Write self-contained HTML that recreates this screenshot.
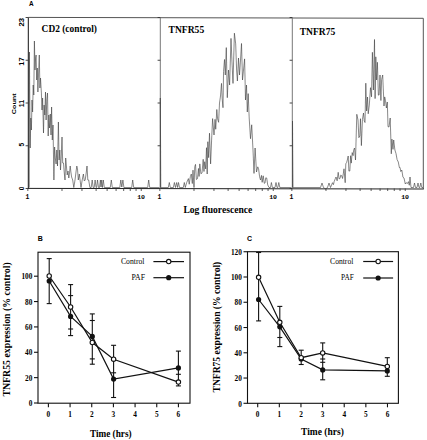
<!DOCTYPE html>
<html><head><meta charset="utf-8"><title>Figure</title>
<style>html,body{margin:0;padding:0;background:#fff;width:427px;height:440px;overflow:hidden}svg{display:block}</style>
</head><body>
<svg width="427" height="440" viewBox="0 0 427 440"><defs><filter id="sb" x="-5%" y="-5%" width="110%" height="110%"><feGaussianBlur stdDeviation="0.3"/></filter></defs><text x="29.00" y="6.20" style="font-family:'Liberation Sans',sans-serif;font-size:6.4px;font-weight:bold" text-anchor="start" fill="#000" >A</text>
<line x1="28.30" y1="17.40" x2="423.30" y2="18.30" stroke="#555" stroke-width="1"/>
<line x1="423.30" y1="18.30" x2="423.30" y2="189.00" stroke="#555" stroke-width="1"/>
<line x1="28.00" y1="188.40" x2="423.80" y2="189.00" stroke="#222" stroke-width="1"/>
<line x1="28.30" y1="17.50" x2="28.30" y2="188.50" stroke="#111" stroke-width="1"/>
<line x1="160.30" y1="17.50" x2="160.30" y2="188.50" stroke="#777" stroke-width="1"/>
<line x1="292.30" y1="17.50" x2="292.30" y2="188.50" stroke="#777" stroke-width="1"/>
<line x1="25.60" y1="17.50" x2="28.30" y2="17.50" stroke="#333" stroke-width="0.9"/>
<line x1="25.60" y1="60.25" x2="28.30" y2="60.25" stroke="#333" stroke-width="0.9"/>
<line x1="25.60" y1="103.00" x2="28.30" y2="103.00" stroke="#333" stroke-width="0.9"/>
<line x1="25.60" y1="145.75" x2="28.30" y2="145.75" stroke="#333" stroke-width="0.9"/>
<line x1="25.60" y1="188.50" x2="28.30" y2="188.50" stroke="#333" stroke-width="0.9"/>
<line x1="157.60" y1="17.50" x2="160.30" y2="17.50" stroke="#333" stroke-width="0.9"/>
<line x1="157.60" y1="60.25" x2="160.30" y2="60.25" stroke="#333" stroke-width="0.9"/>
<line x1="157.60" y1="103.00" x2="160.30" y2="103.00" stroke="#333" stroke-width="0.9"/>
<line x1="157.60" y1="145.75" x2="160.30" y2="145.75" stroke="#333" stroke-width="0.9"/>
<line x1="157.60" y1="188.50" x2="160.30" y2="188.50" stroke="#333" stroke-width="0.9"/>
<line x1="289.60" y1="17.50" x2="292.30" y2="17.50" stroke="#333" stroke-width="0.9"/>
<line x1="289.60" y1="60.25" x2="292.30" y2="60.25" stroke="#333" stroke-width="0.9"/>
<line x1="289.60" y1="103.00" x2="292.30" y2="103.00" stroke="#333" stroke-width="0.9"/>
<line x1="289.60" y1="145.75" x2="292.30" y2="145.75" stroke="#333" stroke-width="0.9"/>
<line x1="289.60" y1="188.50" x2="292.30" y2="188.50" stroke="#333" stroke-width="0.9"/>
<line x1="27.85" y1="188.50" x2="27.85" y2="191.00" stroke="#333" stroke-width="0.8"/>
<line x1="61.99" y1="188.50" x2="61.99" y2="191.00" stroke="#333" stroke-width="0.8"/>
<line x1="81.96" y1="188.50" x2="81.96" y2="191.00" stroke="#333" stroke-width="0.8"/>
<line x1="96.12" y1="188.50" x2="96.12" y2="191.00" stroke="#333" stroke-width="0.8"/>
<line x1="107.11" y1="188.50" x2="107.11" y2="191.00" stroke="#333" stroke-width="0.8"/>
<line x1="116.09" y1="188.50" x2="116.09" y2="191.00" stroke="#333" stroke-width="0.8"/>
<line x1="123.68" y1="188.50" x2="123.68" y2="191.00" stroke="#333" stroke-width="0.8"/>
<line x1="130.26" y1="188.50" x2="130.26" y2="191.00" stroke="#333" stroke-width="0.8"/>
<line x1="136.06" y1="188.50" x2="136.06" y2="191.00" stroke="#333" stroke-width="0.8"/>
<line x1="141.25" y1="188.50" x2="141.25" y2="191.00" stroke="#333" stroke-width="0.8"/>
<line x1="159.85" y1="188.50" x2="159.85" y2="191.00" stroke="#333" stroke-width="0.8"/>
<line x1="193.99" y1="188.50" x2="193.99" y2="191.00" stroke="#333" stroke-width="0.8"/>
<line x1="213.96" y1="188.50" x2="213.96" y2="191.00" stroke="#333" stroke-width="0.8"/>
<line x1="228.12" y1="188.50" x2="228.12" y2="191.00" stroke="#333" stroke-width="0.8"/>
<line x1="239.11" y1="188.50" x2="239.11" y2="191.00" stroke="#333" stroke-width="0.8"/>
<line x1="248.09" y1="188.50" x2="248.09" y2="191.00" stroke="#333" stroke-width="0.8"/>
<line x1="255.68" y1="188.50" x2="255.68" y2="191.00" stroke="#333" stroke-width="0.8"/>
<line x1="262.26" y1="188.50" x2="262.26" y2="191.00" stroke="#333" stroke-width="0.8"/>
<line x1="268.06" y1="188.50" x2="268.06" y2="191.00" stroke="#333" stroke-width="0.8"/>
<line x1="273.25" y1="188.50" x2="273.25" y2="191.00" stroke="#333" stroke-width="0.8"/>
<line x1="291.85" y1="188.50" x2="291.85" y2="191.00" stroke="#333" stroke-width="0.8"/>
<line x1="325.99" y1="188.50" x2="325.99" y2="191.00" stroke="#333" stroke-width="0.8"/>
<line x1="345.96" y1="188.50" x2="345.96" y2="191.00" stroke="#333" stroke-width="0.8"/>
<line x1="360.12" y1="188.50" x2="360.12" y2="191.00" stroke="#333" stroke-width="0.8"/>
<line x1="371.11" y1="188.50" x2="371.11" y2="191.00" stroke="#333" stroke-width="0.8"/>
<line x1="380.09" y1="188.50" x2="380.09" y2="191.00" stroke="#333" stroke-width="0.8"/>
<line x1="387.68" y1="188.50" x2="387.68" y2="191.00" stroke="#333" stroke-width="0.8"/>
<line x1="394.26" y1="188.50" x2="394.26" y2="191.00" stroke="#333" stroke-width="0.8"/>
<line x1="400.06" y1="188.50" x2="400.06" y2="191.00" stroke="#333" stroke-width="0.8"/>
<line x1="405.25" y1="188.50" x2="405.25" y2="191.00" stroke="#333" stroke-width="0.8"/>
<text x="23.90" y="22.30" style="font-family:'Liberation Sans',sans-serif;font-size:6.5px;font-weight:bold" text-anchor="middle" fill="#000" textLength="8.6" lengthAdjust="spacingAndGlyphs" transform="rotate(-90 23.90 22.30)" >23</text>
<text x="23.90" y="61.50" style="font-family:'Liberation Sans',sans-serif;font-size:6.5px;font-weight:bold" text-anchor="middle" fill="#000" textLength="8.4" lengthAdjust="spacingAndGlyphs" transform="rotate(-90 23.90 61.50)" >17</text>
<text x="23.90" y="103.60" style="font-family:'Liberation Sans',sans-serif;font-size:6.5px;font-weight:bold" text-anchor="middle" fill="#000" textLength="7.4" lengthAdjust="spacingAndGlyphs" transform="rotate(-90 23.90 103.60)" >11</text>
<text x="23.90" y="144.60" style="font-family:'Liberation Sans',sans-serif;font-size:6.5px;font-weight:bold" text-anchor="middle" fill="#000" transform="rotate(-90 23.90 144.60)" >5</text>
<text x="23.90" y="188.50" style="font-family:'Liberation Sans',sans-serif;font-size:6.5px;font-weight:bold" text-anchor="middle" fill="#000" transform="rotate(-90 23.90 188.50)" >0</text>
<text x="15.90" y="103.80" style="font-family:'Liberation Sans',sans-serif;font-size:5.4px;font-weight:bold" text-anchor="middle" fill="#000" textLength="20.8" lengthAdjust="spacingAndGlyphs" transform="rotate(-90 15.90 103.80)" >Count</text>
<text x="27.40" y="198.60" style="font-family:'Liberation Mono',monospace;font-size:6.4px;font-weight:bold" text-anchor="middle" fill="#000" >1</text>
<text x="141.10" y="198.50" style="font-family:'Liberation Mono',monospace;font-size:6.2px;font-weight:bold" text-anchor="middle" fill="#000" textLength="7.9" lengthAdjust="spacingAndGlyphs" >10</text>
<text x="159.40" y="198.60" style="font-family:'Liberation Mono',monospace;font-size:6.4px;font-weight:bold" text-anchor="middle" fill="#000" >1</text>
<text x="273.10" y="198.50" style="font-family:'Liberation Mono',monospace;font-size:6.2px;font-weight:bold" text-anchor="middle" fill="#000" textLength="7.9" lengthAdjust="spacingAndGlyphs" >10</text>
<text x="291.40" y="198.60" style="font-family:'Liberation Mono',monospace;font-size:6.4px;font-weight:bold" text-anchor="middle" fill="#000" >1</text>
<text x="405.10" y="198.50" style="font-family:'Liberation Mono',monospace;font-size:6.2px;font-weight:bold" text-anchor="middle" fill="#000" textLength="7.9" lengthAdjust="spacingAndGlyphs" >10</text>
<text x="183.40" y="212.70" style="font-family:'Liberation Serif',serif;font-size:9.4px;font-weight:bold" text-anchor="start" fill="#000" textLength="69" lengthAdjust="spacingAndGlyphs" >Log fluorescence</text>
<text x="41.60" y="31.80" style="font-family:'Liberation Serif',serif;font-size:9.4px;font-weight:bold" text-anchor="start" fill="#000" textLength="55.4" lengthAdjust="spacingAndGlyphs" >CD2 (control)</text>
<text x="168.60" y="32.60" style="font-family:'Liberation Serif',serif;font-size:9.5px;font-weight:bold" text-anchor="start" fill="#000" textLength="35.6" lengthAdjust="spacingAndGlyphs" >TNFR55</text>
<text x="299.70" y="34.60" style="font-family:'Liberation Serif',serif;font-size:9.5px;font-weight:bold" text-anchor="start" fill="#000" textLength="35.7" lengthAdjust="spacingAndGlyphs" >TNFR75</text>
<polyline points="29.30,187.50 29.40,52.00 30.20,148.00 30.80,118.00 31.40,130.00 32.00,100.00 32.60,112.00 33.20,85.00 33.80,95.00 34.40,41.00 35.00,70.00 35.60,58.00 36.10,55.00 36.70,80.00 37.30,68.00 37.90,92.00 38.50,75.00 39.30,55.00 39.90,88.00 40.50,78.00 41.40,93.00 42.00,110.00 42.60,98.00 43.50,133.00 44.10,105.00 44.80,115.00 45.50,92.00 46.10,120.00 46.80,100.00 47.50,93.00 48.20,136.00 48.80,115.00 49.50,128.00 50.30,114.00 51.00,135.00 51.60,107.00 52.30,140.00 53.00,125.00 53.90,180.00 54.60,147.00 55.30,158.00 56.10,164.00 56.80,150.00 57.50,166.00 58.40,122.00 59.10,160.00 59.80,150.00 60.50,170.00 61.20,158.00 62.00,137.00 62.70,163.00 63.50,163.00 64.20,172.00 65.00,180.00 65.70,158.00 66.40,166.00 67.20,175.00 68.00,171.00 68.80,178.00 69.50,173.00 70.20,166.00 70.90,172.00 71.60,177.00 72.70,180.00 73.80,187.50 75.00,180.00 76.00,172.00 76.80,166.00 77.50,169.00 78.30,180.00 79.30,174.00 80.20,181.00 81.00,187.50 82.20,180.00 83.40,174.00 84.30,181.00 85.20,180.00 86.20,173.00 87.00,166.00 87.80,180.00 88.70,180.00 89.90,187.50 91.20,187.50 92.20,180.00 93.20,187.50 94.20,187.50 95.10,180.00 96.10,187.50 96.60,187.50 97.50,180.00 98.50,187.50 99.50,187.50 100.40,180.00 101.00,187.00 101.70,180.00 102.40,187.50 103.30,180.00 104.30,187.50 110.30,187.50 111.30,180.00 112.30,187.50 119.80,187.50 120.80,180.00 121.80,187.00 122.90,180.00 123.90,187.50 131.70,187.50 132.70,180.00 133.70,187.50 147.70,187.50 148.70,180.00 149.70,187.50 159.50,187.50" fill="none" stroke="#404040" stroke-width="0.62" stroke-linejoin="round" filter="url(#sb)"/>
<polyline points="160.30,187.50 160.30,98.00 160.80,187.50 168.30,187.50 169.30,182.50 170.30,187.50 173.40,187.50 174.40,182.50 175.50,187.50 176.70,182.50 177.60,187.50 178.50,182.50 179.50,187.50 183.30,187.50 184.30,182.50 185.30,187.50 186.70,182.50 188.40,178.60 189.23,184.24 190.32,176.69 191.30,174.00 192.32,183.56 192.99,170.15 194.00,187.50 194.78,166.63 195.50,164.40 196.39,179.48 197.50,178.60 198.47,168.49 199.08,176.44 199.80,163.90 200.90,173.75 202.00,173.00 203.20,159.30 203.97,171.50 204.70,161.73 205.70,168.93 206.50,147.70 207.20,174.00 207.84,141.71 208.63,157.65 209.50,133.20 210.60,163.90 211.79,135.75 212.60,118.60 214.00,135.00 215.04,119.35 215.72,129.28 216.80,109.50 217.58,118.87 218.60,122.30 219.51,103.04 220.50,96.00 221.50,83.40 222.20,98.85 223.00,107.70 223.56,71.50 224.50,59.50 225.30,75.00 226.30,47.60 227.30,97.70 228.50,70.00 229.60,85.00 231.00,38.40 231.90,60.00 233.00,83.40 234.40,33.20 235.70,43.90 236.60,70.00 237.40,81.00 238.50,58.00 239.50,75.00 240.40,62.00 241.50,43.50 242.50,80.00 243.50,70.00 244.60,58.90 245.50,100.00 246.50,85.00 247.30,112.00 248.20,93.60 249.20,118.00 250.50,138.70 251.70,124.80 253.00,150.00 254.00,173.40 255.10,148.00 256.50,172.00 257.75,166.83 258.60,168.80 259.57,176.65 260.50,180.00 261.44,175.38 262.17,182.34 263.20,175.80 264.27,183.36 265.00,183.00 265.77,177.79 266.70,178.00 267.73,184.96 269.00,187.50 270.50,187.50 271.40,182.50 272.40,187.50 275.00,187.50 276.00,182.50 277.00,187.50 277.80,187.50 278.80,182.50 279.80,187.50 291.50,187.50" fill="none" stroke="#404040" stroke-width="0.62" stroke-linejoin="round" filter="url(#sb)"/>
<polyline points="292.50,187.50 292.50,121.00 293.00,187.50 320.50,187.50 322.00,183.00 323.50,187.50 325.50,189.00 327.50,187.50 329.00,183.00 330.50,187.50 332.50,182.70 333.40,184.66 334.16,181.59 335.29,178.70 336.00,177.00 337.15,180.79 338.20,172.30 339.09,178.87 340.00,178.50 340.82,175.00 341.70,175.80 342.56,178.49 343.40,173.13 344.00,168.80 345.20,182.70 345.80,163.77 346.61,162.59 347.55,159.02 348.20,156.00 348.90,171.10 349.80,171.00 350.61,155.73 351.27,163.12 352.20,152.60 353.12,155.66 353.58,150.34 354.50,148.00 355.50,160.00 356.80,114.30 358.00,120.00 358.83,137.66 359.80,136.00 360.48,118.72 361.40,145.60 362.43,119.54 363.50,113.00 364.27,120.95 365.00,122.50 365.80,83.20 366.60,111.00 367.50,97.00 368.23,113.79 369.30,105.00 370.50,87.70 371.50,96.80 372.40,52.30 373.40,90.00 374.50,39.50 375.10,98.60 375.80,56.80 376.60,80.00 377.40,62.30 378.36,95.18 379.10,95.00 380.00,75.00 380.90,100.50 381.61,79.53 382.70,75.00 384.00,106.00 384.68,96.90 385.50,100.50 386.40,108.00 387.30,102.00 388.02,126.68 389.00,127.00 390.20,118.00 391.30,153.80 391.91,139.09 392.99,149.35 393.70,140.00 394.90,150.00 396.00,153.55 397.10,159.60 398.30,162.00 399.36,167.54 400.01,167.39 400.77,171.56 401.80,170.00 402.95,177.15 404.00,178.00 405.30,184.00 406.19,182.64 406.84,183.22 407.80,183.31 408.44,181.65 409.31,185.26 410.00,177.00 411.00,187.50 413.50,187.50 414.50,183.00 415.50,187.50 417.00,187.50 418.00,183.00 419.00,187.50 419.80,187.50 420.80,183.00 421.80,187.50 423.00,187.50" fill="none" stroke="#404040" stroke-width="0.62" stroke-linejoin="round" filter="url(#sb)"/>
<text x="37.80" y="241.30" style="font-family:'Liberation Sans',sans-serif;font-size:7.0px;font-weight:bold" text-anchor="start" fill="#000" >B</text>
<rect x="38.00" y="252.20" width="152.00" height="151.00" fill="none" stroke="#111" stroke-width="1.1"/>
<line x1="34.00" y1="403.00" x2="38.00" y2="403.00" stroke="#111" stroke-width="1.1"/>
<text x="32.40" y="406.20" style="font-family:'Liberation Serif',serif;font-size:7.3px;font-weight:bold" text-anchor="end" fill="#000" textLength="3.65" lengthAdjust="spacingAndGlyphs" >0</text>
<line x1="34.00" y1="377.64" x2="38.00" y2="377.64" stroke="#111" stroke-width="1.1"/>
<text x="32.40" y="380.84" style="font-family:'Liberation Serif',serif;font-size:7.3px;font-weight:bold" text-anchor="end" fill="#000" textLength="7.3" lengthAdjust="spacingAndGlyphs" >20</text>
<line x1="34.00" y1="352.28" x2="38.00" y2="352.28" stroke="#111" stroke-width="1.1"/>
<text x="32.40" y="355.48" style="font-family:'Liberation Serif',serif;font-size:7.3px;font-weight:bold" text-anchor="end" fill="#000" textLength="7.3" lengthAdjust="spacingAndGlyphs" >40</text>
<line x1="34.00" y1="326.92" x2="38.00" y2="326.92" stroke="#111" stroke-width="1.1"/>
<text x="32.40" y="330.12" style="font-family:'Liberation Serif',serif;font-size:7.3px;font-weight:bold" text-anchor="end" fill="#000" textLength="7.3" lengthAdjust="spacingAndGlyphs" >60</text>
<line x1="34.00" y1="301.56" x2="38.00" y2="301.56" stroke="#111" stroke-width="1.1"/>
<text x="32.40" y="304.76" style="font-family:'Liberation Serif',serif;font-size:7.3px;font-weight:bold" text-anchor="end" fill="#000" textLength="7.3" lengthAdjust="spacingAndGlyphs" >80</text>
<line x1="34.00" y1="276.20" x2="38.00" y2="276.20" stroke="#111" stroke-width="1.1"/>
<text x="32.40" y="279.40" style="font-family:'Liberation Serif',serif;font-size:7.3px;font-weight:bold" text-anchor="end" fill="#000" textLength="10.95" lengthAdjust="spacingAndGlyphs" >100</text>
<line x1="48.40" y1="403.20" x2="48.40" y2="407.20" stroke="#111" stroke-width="1.1"/>
<text x="48.40" y="416.90" style="font-family:'Liberation Serif',serif;font-size:7.3px;font-weight:bold" text-anchor="middle" fill="#000" >0</text>
<line x1="70.07" y1="403.20" x2="70.07" y2="407.20" stroke="#111" stroke-width="1.1"/>
<text x="70.07" y="416.90" style="font-family:'Liberation Serif',serif;font-size:7.3px;font-weight:bold" text-anchor="middle" fill="#000" >1</text>
<line x1="91.74" y1="403.20" x2="91.74" y2="407.20" stroke="#111" stroke-width="1.1"/>
<text x="91.74" y="416.90" style="font-family:'Liberation Serif',serif;font-size:7.3px;font-weight:bold" text-anchor="middle" fill="#000" >2</text>
<line x1="113.41" y1="403.20" x2="113.41" y2="407.20" stroke="#111" stroke-width="1.1"/>
<text x="113.41" y="416.90" style="font-family:'Liberation Serif',serif;font-size:7.3px;font-weight:bold" text-anchor="middle" fill="#000" >3</text>
<line x1="135.08" y1="403.20" x2="135.08" y2="407.20" stroke="#111" stroke-width="1.1"/>
<text x="135.08" y="416.90" style="font-family:'Liberation Serif',serif;font-size:7.3px;font-weight:bold" text-anchor="middle" fill="#000" >4</text>
<line x1="156.75" y1="403.20" x2="156.75" y2="407.20" stroke="#111" stroke-width="1.1"/>
<text x="156.75" y="416.90" style="font-family:'Liberation Serif',serif;font-size:7.3px;font-weight:bold" text-anchor="middle" fill="#000" >5</text>
<line x1="178.42" y1="403.20" x2="178.42" y2="407.20" stroke="#111" stroke-width="1.1"/>
<text x="178.42" y="416.90" style="font-family:'Liberation Serif',serif;font-size:7.3px;font-weight:bold" text-anchor="middle" fill="#000" >6</text>
<text x="10.00" y="396.60" style="font-family:'Liberation Serif',serif;font-size:9.4px;font-weight:bold" text-anchor="start" fill="#000" textLength="134.3" lengthAdjust="spacingAndGlyphs" transform="rotate(-90 10.00 396.60)" >TNFR55 expression (% control)</text>
<text x="89.90" y="436.60" style="font-family:'Liberation Serif',serif;font-size:9.3px;font-weight:bold" text-anchor="start" fill="#000" textLength="41.7" lengthAdjust="spacingAndGlyphs" >Time (hrs)</text>
<text x="121.00" y="264.00" style="font-family:'Liberation Serif',serif;font-size:7.6px;font-weight:normal" text-anchor="start" fill="#000" textLength="23.4" lengthAdjust="spacingAndGlyphs" >Control</text>
<text x="131.50" y="280.10" style="font-family:'Liberation Serif',serif;font-size:7.6px;font-weight:normal" text-anchor="start" fill="#000" textLength="13.5" lengthAdjust="spacingAndGlyphs" >PAF</text>
<line x1="153.40" y1="261.60" x2="184.00" y2="261.60" stroke="#111" stroke-width="1.2"/>
<line x1="153.40" y1="277.70" x2="184.00" y2="277.70" stroke="#111" stroke-width="1.2"/>
<circle cx="168.70" cy="261.60" r="2.2" fill="#fff" stroke="#111" stroke-width="1.1"/>
<circle cx="168.70" cy="277.70" r="2.6" fill="#111"/>
<line x1="49.20" y1="258.60" x2="49.20" y2="303.60" stroke="#111" stroke-width="1.1"/>
<line x1="70.60" y1="284.60" x2="70.60" y2="335.60" stroke="#111" stroke-width="1.1"/>
<line x1="92.30" y1="313.90" x2="92.30" y2="364.20" stroke="#111" stroke-width="1.1"/>
<line x1="113.60" y1="345.30" x2="113.60" y2="397.50" stroke="#111" stroke-width="1.1"/>
<line x1="178.40" y1="351.10" x2="178.40" y2="385.90" stroke="#111" stroke-width="1.1"/>
<line x1="46.70" y1="258.60" x2="51.70" y2="258.60" stroke="#111" stroke-width="1.1"/>
<line x1="46.70" y1="303.60" x2="51.70" y2="303.60" stroke="#111" stroke-width="1.1"/>
<line x1="68.10" y1="284.60" x2="73.10" y2="284.60" stroke="#111" stroke-width="1.1"/>
<line x1="68.10" y1="295.60" x2="73.10" y2="295.60" stroke="#111" stroke-width="1.1"/>
<line x1="68.10" y1="329.00" x2="73.10" y2="329.00" stroke="#111" stroke-width="1.1"/>
<line x1="68.10" y1="335.60" x2="73.10" y2="335.60" stroke="#111" stroke-width="1.1"/>
<line x1="89.80" y1="313.90" x2="94.80" y2="313.90" stroke="#111" stroke-width="1.1"/>
<line x1="89.80" y1="320.50" x2="94.80" y2="320.50" stroke="#111" stroke-width="1.1"/>
<line x1="89.80" y1="358.90" x2="94.80" y2="358.90" stroke="#111" stroke-width="1.1"/>
<line x1="89.80" y1="364.20" x2="94.80" y2="364.20" stroke="#111" stroke-width="1.1"/>
<line x1="111.10" y1="345.30" x2="116.10" y2="345.30" stroke="#111" stroke-width="1.1"/>
<line x1="111.10" y1="372.80" x2="116.10" y2="372.80" stroke="#111" stroke-width="1.1"/>
<line x1="111.10" y1="397.50" x2="116.10" y2="397.50" stroke="#111" stroke-width="1.1"/>
<line x1="175.90" y1="351.10" x2="180.90" y2="351.10" stroke="#111" stroke-width="1.1"/>
<line x1="175.90" y1="374.30" x2="180.90" y2="374.30" stroke="#111" stroke-width="1.1"/>
<line x1="175.90" y1="385.90" x2="180.90" y2="385.90" stroke="#111" stroke-width="1.1"/>
<polyline points="49.20,276.00 70.60,307.00 92.30,342.50 113.60,359.20 178.40,382.10" fill="none" stroke="#111" stroke-width="1.2"/>
<polyline points="49.20,281.00 70.60,316.40 92.30,336.40 113.60,379.10 178.40,367.90" fill="none" stroke="#111" stroke-width="1.2"/>
<circle cx="49.20" cy="281.00" r="2.6" fill="#111"/>
<circle cx="70.60" cy="316.40" r="2.6" fill="#111"/>
<circle cx="92.30" cy="336.40" r="2.6" fill="#111"/>
<circle cx="113.60" cy="379.10" r="2.6" fill="#111"/>
<circle cx="178.40" cy="367.90" r="2.6" fill="#111"/>
<circle cx="49.20" cy="276.00" r="2.2" fill="#fff" stroke="#111" stroke-width="1.1"/>
<circle cx="70.60" cy="307.00" r="2.2" fill="#fff" stroke="#111" stroke-width="1.1"/>
<circle cx="92.30" cy="342.50" r="2.2" fill="#fff" stroke="#111" stroke-width="1.1"/>
<circle cx="113.60" cy="359.20" r="2.2" fill="#fff" stroke="#111" stroke-width="1.1"/>
<circle cx="178.40" cy="382.10" r="2.2" fill="#fff" stroke="#111" stroke-width="1.1"/>
<text x="247.00" y="240.60" style="font-family:'Liberation Sans',sans-serif;font-size:7.0px;font-weight:bold" text-anchor="start" fill="#000" >C</text>
<rect x="247.50" y="251.70" width="150.90" height="151.60" fill="none" stroke="#111" stroke-width="1.1"/>
<line x1="243.50" y1="403.30" x2="247.50" y2="403.30" stroke="#111" stroke-width="1.1"/>
<text x="241.90" y="406.50" style="font-family:'Liberation Serif',serif;font-size:7.3px;font-weight:bold" text-anchor="end" fill="#000" textLength="3.65" lengthAdjust="spacingAndGlyphs" >0</text>
<line x1="243.50" y1="378.04" x2="247.50" y2="378.04" stroke="#111" stroke-width="1.1"/>
<text x="241.90" y="381.24" style="font-family:'Liberation Serif',serif;font-size:7.3px;font-weight:bold" text-anchor="end" fill="#000" textLength="7.3" lengthAdjust="spacingAndGlyphs" >20</text>
<line x1="243.50" y1="352.78" x2="247.50" y2="352.78" stroke="#111" stroke-width="1.1"/>
<text x="241.90" y="355.98" style="font-family:'Liberation Serif',serif;font-size:7.3px;font-weight:bold" text-anchor="end" fill="#000" textLength="7.3" lengthAdjust="spacingAndGlyphs" >40</text>
<line x1="243.50" y1="327.52" x2="247.50" y2="327.52" stroke="#111" stroke-width="1.1"/>
<text x="241.90" y="330.72" style="font-family:'Liberation Serif',serif;font-size:7.3px;font-weight:bold" text-anchor="end" fill="#000" textLength="7.3" lengthAdjust="spacingAndGlyphs" >60</text>
<line x1="243.50" y1="302.26" x2="247.50" y2="302.26" stroke="#111" stroke-width="1.1"/>
<text x="241.90" y="305.46" style="font-family:'Liberation Serif',serif;font-size:7.3px;font-weight:bold" text-anchor="end" fill="#000" textLength="7.3" lengthAdjust="spacingAndGlyphs" >80</text>
<line x1="243.50" y1="277.00" x2="247.50" y2="277.00" stroke="#111" stroke-width="1.1"/>
<text x="241.90" y="280.20" style="font-family:'Liberation Serif',serif;font-size:7.3px;font-weight:bold" text-anchor="end" fill="#000" textLength="10.95" lengthAdjust="spacingAndGlyphs" >100</text>
<line x1="243.50" y1="251.74" x2="247.50" y2="251.74" stroke="#111" stroke-width="1.1"/>
<text x="241.90" y="254.94" style="font-family:'Liberation Serif',serif;font-size:7.3px;font-weight:bold" text-anchor="end" fill="#000" textLength="10.95" lengthAdjust="spacingAndGlyphs" >120</text>
<line x1="257.70" y1="403.30" x2="257.70" y2="407.30" stroke="#111" stroke-width="1.1"/>
<text x="257.70" y="417.00" style="font-family:'Liberation Serif',serif;font-size:7.3px;font-weight:bold" text-anchor="middle" fill="#000" >0</text>
<line x1="279.33" y1="403.30" x2="279.33" y2="407.30" stroke="#111" stroke-width="1.1"/>
<text x="279.33" y="417.00" style="font-family:'Liberation Serif',serif;font-size:7.3px;font-weight:bold" text-anchor="middle" fill="#000" >1</text>
<line x1="300.96" y1="403.30" x2="300.96" y2="407.30" stroke="#111" stroke-width="1.1"/>
<text x="300.96" y="417.00" style="font-family:'Liberation Serif',serif;font-size:7.3px;font-weight:bold" text-anchor="middle" fill="#000" >2</text>
<line x1="322.59" y1="403.30" x2="322.59" y2="407.30" stroke="#111" stroke-width="1.1"/>
<text x="322.59" y="417.00" style="font-family:'Liberation Serif',serif;font-size:7.3px;font-weight:bold" text-anchor="middle" fill="#000" >3</text>
<line x1="344.22" y1="403.30" x2="344.22" y2="407.30" stroke="#111" stroke-width="1.1"/>
<text x="344.22" y="417.00" style="font-family:'Liberation Serif',serif;font-size:7.3px;font-weight:bold" text-anchor="middle" fill="#000" >4</text>
<line x1="365.85" y1="403.30" x2="365.85" y2="407.30" stroke="#111" stroke-width="1.1"/>
<text x="365.85" y="417.00" style="font-family:'Liberation Serif',serif;font-size:7.3px;font-weight:bold" text-anchor="middle" fill="#000" >5</text>
<line x1="387.48" y1="403.30" x2="387.48" y2="407.30" stroke="#111" stroke-width="1.1"/>
<text x="387.48" y="417.00" style="font-family:'Liberation Serif',serif;font-size:7.3px;font-weight:bold" text-anchor="middle" fill="#000" >6</text>
<text x="219.60" y="392.50" style="font-family:'Liberation Serif',serif;font-size:9.4px;font-weight:bold" text-anchor="start" fill="#000" textLength="130.8" lengthAdjust="spacingAndGlyphs" transform="rotate(-90 219.60 392.50)" >TNFR75 expression (% control)</text>
<text x="301.10" y="435.40" style="font-family:'Liberation Serif',serif;font-size:9.3px;font-weight:bold" text-anchor="start" fill="#000" textLength="42.7" lengthAdjust="spacingAndGlyphs" >Time (hrs)</text>
<text x="330.10" y="263.90" style="font-family:'Liberation Serif',serif;font-size:7.6px;font-weight:normal" text-anchor="start" fill="#000" textLength="23.2" lengthAdjust="spacingAndGlyphs" >Control</text>
<text x="341.00" y="280.40" style="font-family:'Liberation Serif',serif;font-size:7.6px;font-weight:normal" text-anchor="start" fill="#000" textLength="12.7" lengthAdjust="spacingAndGlyphs" >PAF</text>
<line x1="363.20" y1="261.50" x2="393.10" y2="261.50" stroke="#111" stroke-width="1.2"/>
<line x1="363.20" y1="278.00" x2="393.10" y2="278.00" stroke="#111" stroke-width="1.2"/>
<circle cx="378.15" cy="261.50" r="2.2" fill="#fff" stroke="#111" stroke-width="1.1"/>
<circle cx="378.15" cy="278.00" r="2.6" fill="#111"/>
<line x1="258.60" y1="252.00" x2="258.60" y2="320.90" stroke="#111" stroke-width="1.1"/>
<line x1="279.80" y1="306.40" x2="279.80" y2="346.60" stroke="#111" stroke-width="1.1"/>
<line x1="301.20" y1="350.20" x2="301.20" y2="364.50" stroke="#111" stroke-width="1.1"/>
<line x1="322.70" y1="342.90" x2="322.70" y2="379.80" stroke="#111" stroke-width="1.1"/>
<line x1="387.30" y1="357.70" x2="387.30" y2="376.30" stroke="#111" stroke-width="1.1"/>
<line x1="256.10" y1="252.50" x2="261.10" y2="252.50" stroke="#111" stroke-width="1.1"/>
<line x1="256.10" y1="320.90" x2="261.10" y2="320.90" stroke="#111" stroke-width="1.1"/>
<line x1="277.30" y1="306.40" x2="282.30" y2="306.40" stroke="#111" stroke-width="1.1"/>
<line x1="277.30" y1="337.50" x2="282.30" y2="337.50" stroke="#111" stroke-width="1.1"/>
<line x1="277.30" y1="346.60" x2="282.30" y2="346.60" stroke="#111" stroke-width="1.1"/>
<line x1="298.70" y1="350.20" x2="303.70" y2="350.20" stroke="#111" stroke-width="1.1"/>
<line x1="298.70" y1="364.50" x2="303.70" y2="364.50" stroke="#111" stroke-width="1.1"/>
<line x1="320.20" y1="342.90" x2="325.20" y2="342.90" stroke="#111" stroke-width="1.1"/>
<line x1="320.20" y1="359.00" x2="325.20" y2="359.00" stroke="#111" stroke-width="1.1"/>
<line x1="320.20" y1="362.30" x2="325.20" y2="362.30" stroke="#111" stroke-width="1.1"/>
<line x1="320.20" y1="379.80" x2="325.20" y2="379.80" stroke="#111" stroke-width="1.1"/>
<line x1="384.80" y1="357.70" x2="389.80" y2="357.70" stroke="#111" stroke-width="1.1"/>
<line x1="384.80" y1="376.30" x2="389.80" y2="376.30" stroke="#111" stroke-width="1.1"/>
<polyline points="258.60,277.30 279.80,322.30 301.20,357.70 322.70,352.90 387.30,366.40" fill="none" stroke="#111" stroke-width="1.2"/>
<polyline points="258.60,299.50 279.80,326.80 301.20,359.00 322.70,369.90 387.30,370.90" fill="none" stroke="#111" stroke-width="1.2"/>
<circle cx="258.60" cy="299.50" r="2.6" fill="#111"/>
<circle cx="279.80" cy="326.80" r="2.6" fill="#111"/>
<circle cx="301.20" cy="359.00" r="2.6" fill="#111"/>
<circle cx="322.70" cy="369.90" r="2.6" fill="#111"/>
<circle cx="387.30" cy="370.90" r="2.6" fill="#111"/>
<circle cx="258.60" cy="277.30" r="2.2" fill="#fff" stroke="#111" stroke-width="1.1"/>
<circle cx="279.80" cy="322.30" r="2.2" fill="#fff" stroke="#111" stroke-width="1.1"/>
<circle cx="301.20" cy="357.70" r="2.2" fill="#fff" stroke="#111" stroke-width="1.1"/>
<circle cx="322.70" cy="352.90" r="2.2" fill="#fff" stroke="#111" stroke-width="1.1"/>
<circle cx="387.30" cy="366.40" r="2.2" fill="#fff" stroke="#111" stroke-width="1.1"/></svg>
</body></html>
